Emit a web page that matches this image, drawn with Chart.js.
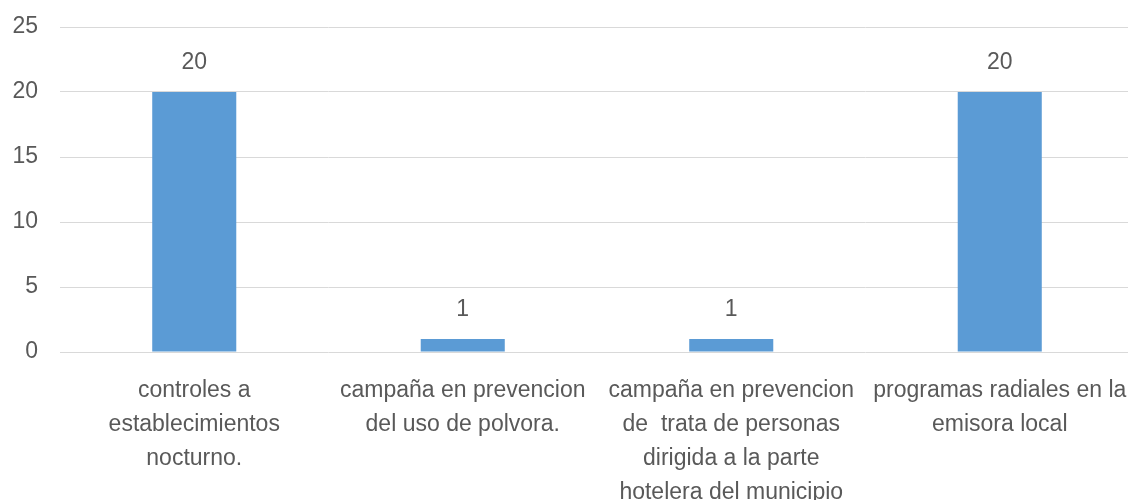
<!DOCTYPE html>
<html>
<head>
<meta charset="utf-8">
<script src="https://cdn.jsdelivr.net/npm/chart.js@4"></script>
<style>
  html, body { margin: 0; padding: 0; background: #fff; overflow: hidden; }
  #wrap { width: 1128px; height: 500px; overflow: hidden; }
</style>
</head>
<body>
<div id="wrap"><canvas id="chart" width="1136" height="510"></canvas></div>
<script>
const categories = [
    ['controles a', 'establecimientos', 'nocturno.'],
    ['campaña en prevencion', 'del uso de polvora.'],
    ['campaña en prevencion', 'de  trata de personas', 'dirigida a la parte', 'hotelera del municipio'],
    ['programas radiales en la', 'emisora local']
];
const values = [20, 1, 1, 20];
const yTicks = [0, 5, 10, 15, 20, 25];

const FONT = '"Liberation Sans", Arial, sans-serif';
const TEXT = '#595959';

// value labels drawn above each bar
const valueLabels = {
    id: 'valueLabels',
    afterDatasetsDraw(chart) {
        const ctx = chart.ctx;
        const meta = chart.getDatasetMeta(0);
        ctx.save();
        ctx.font = '23px ' + FONT;
        ctx.fillStyle = TEXT;
        ctx.textAlign = 'center';
        ctx.textBaseline = 'alphabetic';
        meta.data.forEach((bar, i) => {
            ctx.fillText(String(values[i]), bar.x, bar.y - 23);
        });
        ctx.restore();
    }
};

const ctx = document.getElementById('chart').getContext('2d');
const chart = new Chart(ctx, {
    type: 'bar',
    data: {
        labels: categories,
        datasets: [{
            data: values,
            backgroundColor: '#5b9bd5',
            borderWidth: 0,
            categoryPercentage: 1,
            barPercentage: 0.313
        }]
    },
    options: {
        responsive: false,
        animation: false,
        layout: { padding: { left: 12, top: 27, right: 2, bottom: 0 } },
        plugins: {
            legend: { display: false },
            tooltip: { enabled: false }
        },
        scales: {
            x: {
                afterFit(axis) {
                    axis.height = 158;
                    axis.paddingLeft = 0;
                    axis.paddingRight = 0;
                },
                grid: { display: false },
                border: { display: false },
                ticks: {
                    color: TEXT,
                    font: { family: FONT, size: 23, lineHeight: 1.48 },
                    padding: 14,
                    maxRotation: 0,
                    autoSkip: false
                }
            },
            y: {
                min: 0,
                max: 25,
                afterBuildTicks(axis) {
                    axis.ticks = yTicks.map(v => ({ value: v }));
                },
                afterFit(axis) {
                    axis.width = 48;
                    axis.paddingTop = 0;
                    axis.paddingBottom = 0;
                },
                grid: { color: '#d9d9d9', lineWidth: 1, drawTicks: false },
                border: { display: false },
                ticks: {
                    color: TEXT,
                    font: { family: FONT, size: 23 },
                    padding: 22
                }
            }
        }
    },
    plugins: [valueLabels]
});
</script>
</body>
</html>
